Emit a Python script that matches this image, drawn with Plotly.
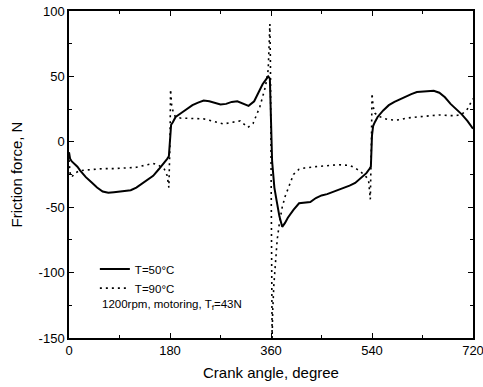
import plotly.graph_objects as go

# T = 50 C (solid)
x50 = [0, 2, 5, 10, 15, 20, 30, 40, 50, 60, 70, 80, 90, 100, 110, 120, 130, 140, 150, 160,
       170, 175, 178, 180, 182, 185, 190, 200, 210, 220, 230, 240, 250, 260, 270, 280, 290,
       300, 310, 320, 330, 340, 345, 350, 355, 357, 358, 362, 366, 370, 375, 380, 385, 390,
       400, 410, 420, 430, 440, 450, 460, 470, 480, 490, 500, 510, 520, 525, 530, 535, 538,
       540, 542, 545, 550, 560, 570, 580, 590, 600, 610, 620, 630, 640, 650, 660, 670, 680,
       690, 700, 710, 720]
y50 = [-8, -13, -15, -17, -19, -22, -27, -31, -35, -38, -39, -38.5, -38, -37.5, -37, -35, -32,
       -29, -26, -21, -16, -13, -11, 5, 13, 15, 19, 22, 25, 28, 30, 31.5, 31, 29.5, 28.5, 29,
       30.5, 31, 29.5, 27.5, 31, 40, 44, 47, 50, 49, 48, -15, -35, -45, -57, -65, -62, -58,
       -52, -47, -46.5, -46, -43, -41, -40, -38.5, -37, -35, -33.5, -31.5, -28, -26, -24, -21,
       -19, 5, 12, 15, 19, 24, 28, 30.5, 32.5, 35, 36.5, 38, 38.5, 39, 39, 37.5, 34, 29, 25,
       21, 16, 10]

# T = 90 C (dotted)
x90 = [0, 2, 5, 10, 20, 40, 60, 80, 100, 120, 140, 150, 160, 170, 175, 178, 180, 181, 183,
       186, 190, 200, 210, 220, 240, 250, 260, 275, 292, 305, 319, 328, 340, 350, 355, 357,
       358, 359, 360, 361, 362, 363, 365, 368, 371, 375, 380, 385, 390, 395, 400, 410, 420,
       440, 460, 480, 500, 510, 520, 530, 534, 537, 539, 540, 542, 545, 550, 560, 570, 580,
       590, 600, 620, 640, 660, 680, 690, 700, 710, 720]
y90 = [-14, -24, -27, -24, -22, -21, -20.5, -20.5, -20, -19.5, -17.5, -16.5, -18, -21, -26,
       -35, 0, 40, 28, 22, 19, 18, 18, 18, 17.5, 16.5, 15.5, 13.6, 15, 16, 11, 14, 26.6, 42,
       55, 75, 90, 60, 0, -80, -150, -130, -110, -90, -75, -62, -50, -42, -36, -30, -25, -21,
       -20, -19, -18, -17.5, -18, -20, -23, -27, -30, -44, 0, 37, 27, 22, 20, 18, 17, 16.5,
       17, 18, 19, 20, 20.5, 20, 20, 21, 25, 33]

x_ticks = [0, 180, 360, 540, 720]
y_ticks = [-150, -100, -50, 0, 50, 100]
y_tick_text = ["-150", "-100", "-50", "0", "50", "100"]

font = "Liberation Sans, Arial, sans-serif"

fig = go.Figure()
fig.add_trace(go.Scatter(x=x50, y=y50, mode="lines", name="T=50°C",
                         line=dict(color="black", width=2)))
fig.add_trace(go.Scatter(x=x90, y=y90, mode="lines", name="T=90°C",
                         line=dict(color="black", width=1.6, dash="2px,4px")))

axis_common = dict(showline=True, linecolor="black", linewidth=1.5, mirror="allticks",
                   ticks="inside", ticklen=5, tickwidth=1.2, tickcolor="black",
                   showgrid=False, zeroline=False, ticklabeloverflow="allow",
                   tickfont=dict(family=font, size=13, color="black"))

fig.update_xaxes(range=[0, 720], tickvals=x_ticks, ticktext=[str(v) for v in x_ticks],
                 minor=dict(ticks="inside", dtick=90, ticklen=3, tickcolor="black", tickwidth=1),
                 title=dict(text="Crank angle, degree", font=dict(family=font, size=15, color="black"),
                            standoff=10),
                 **axis_common)
fig.update_yaxes(range=[-150, 100], tickvals=y_ticks, ticktext=y_tick_text,
                 minor=dict(ticks="inside", dtick=25, ticklen=3, tickcolor="black", tickwidth=1),
                 title=dict(text="Friction force, N", font=dict(family=font, size=15, color="black"),
                            standoff=12),
                 **axis_common)

fig.add_annotation(text="1200rpm, motoring, T<sub>f</sub>=43N", xref="paper", yref="paper",
                   x=0.077, y=0.100, xanchor="left", yanchor="middle", showarrow=False,
                   font=dict(family=font, size=11.5, color="black"))

fig.update_layout(width=483, height=387,
                  margin=dict(l=69, r=10, t=11, b=49, autoexpand=False),
                  paper_bgcolor="white", plot_bgcolor="white",
                  showlegend=True,
                  legend=dict(x=0.064, y=0.255, xanchor="left", yanchor="top",
                              bgcolor="rgba(0,0,0,0)", tracegroupgap=0, itemwidth=30,
                              font=dict(family=font, size=11.5, color="black")))

fig.write_html("out.html", config={"displayModeBar": False},
               post_script="document.body.style.margin='0';")
